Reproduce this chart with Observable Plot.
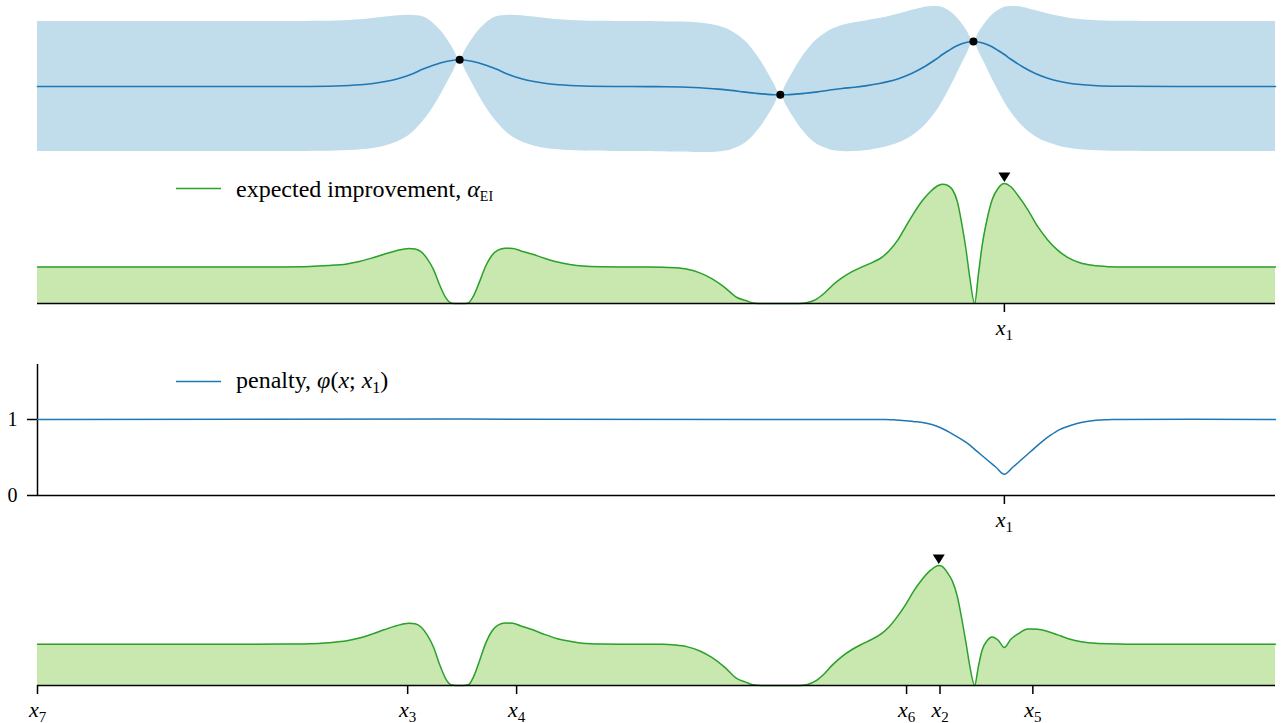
<!DOCTYPE html>
<html>
<head>
<meta charset="utf-8">
<script src="https://cdn.jsdelivr.net/npm/d3@7"></script>
<script src="https://cdn.jsdelivr.net/npm/@observablehq/plot@0.6"></script>
<style>
  body { margin: 0; background: #fff; }
  #chart { position: relative; width: 1282px; height: 723px; background: #fff; }
  #chart svg { display: block; }
  #overlay { position: absolute; left: 0; top: 0; pointer-events: none; }
</style>
</head>
<body>
<div id="chart"></div>
<script>
// ---------- data ----------
// GP posterior (top panel): sample positions, posterior mean, posterior std
const gpX = [0,1.0,2.0,2.41,2.61,2.71,2.81,2.91,3.01,3.11,3.16,3.21,3.26,3.31,3.36,3.41,3.46,3.51,3.56,3.61,3.66,3.71,3.81,3.91,4.01,4.11,4.21,4.41,4.8,5.0,5.2,5.3,5.4,5.5,5.6,5.7,5.75,5.8,5.85,5.9,5.95,6.0,6.05,6.1,6.15,6.2,6.25,6.3,6.4,6.5,6.6,6.7,6.8,6.86,6.96,7.06,7.16,7.26,7.31,7.36,7.41,7.46,7.51,7.56,7.61,7.66,7.71,7.76,7.81,7.86,7.96,8.06,8.16,8.26,8.36,8.56,8.8,9.2,10];
const gpMean = [0,0,0,0.05,0.17,0.3,0.5,0.78,1.17,1.72,1.96,2.18,2.38,2.53,2.63,2.67,2.63,2.53,2.38,2.18,1.96,1.72,1.17,0.78,0.5,0.3,0.17,0.05,0,-0.016,-0.056,-0.10,-0.17,-0.26,-0.385,-0.54,-0.61,-0.68,-0.74,-0.79,-0.82,-0.83,-0.82,-0.79,-0.74,-0.68,-0.61,-0.54,-0.355,-0.20,-0.07,0.09,0.30,0.46,0.81,1.3,1.95,2.75,3.2,3.6,3.97,4.25,4.43,4.5,4.43,4.25,3.97,3.6,3.2,2.75,1.95,1.3,0.83,0.5,0.28,0.08,0.02,0,0];
const gpStd = [3.25,3.25,3.25,3.25,3.25,3.245,3.22,3.15,2.98,2.63,2.36,2.0,1.58,1.08,0.55,0,0.55,1.08,1.58,2.0,2.36,2.63,2.98,3.15,3.22,3.245,3.25,3.25,3.25,3.25,3.25,3.245,3.22,3.15,2.98,2.63,2.36,2.0,1.58,1.08,0.55,0,0.55,1.08,1.58,2.0,2.36,2.63,2.98,3.15,3.22,3.245,3.245,3.245,3.22,3.15,2.98,2.63,2.36,2.0,1.58,1.08,0.55,0,0.55,1.08,1.58,2.0,2.36,2.63,2.98,3.15,3.22,3.245,3.25,3.25,3.25,3.25,3.25];

// observations
const obsX = [3.41, 6.00, 7.56];
const obsY = [2.67, -0.83, 4.5];

// expected improvement and penalized expected improvement (same sample positions)
const eiX = [0,1.5,2.0,2.2,2.35,2.5,2.6,2.7,2.8,2.9,3.0,3.05,3.1,3.15,3.2,3.25,3.3,3.34,3.38,3.44,3.48,3.52,3.57,3.62,3.67,3.72,3.78,3.84,3.9,4.0,4.1,4.2,4.3,4.4,4.55,4.8,5.05,5.15,5.25,5.35,5.45,5.55,5.65,5.72,5.78,5.85,6.15,6.22,6.29,6.36,6.42,6.5,6.58,6.66,6.75,6.82,6.88,6.95,7.01,7.08,7.15,7.22,7.28,7.31,7.35,7.39,7.43,7.47,7.50,7.53,7.57,7.60,7.63,7.67,7.71,7.76,7.81,7.86,7.92,8.0,8.08,8.16,8.24,8.32,8.42,8.52,8.65,8.8,10];
const eiY = [0.304,0.304,0.305,0.308,0.316,0.33,0.35,0.378,0.41,0.44,0.459,0.455,0.43,0.37,0.28,0.15,0.045,0.005,0,0,0.005,0.06,0.18,0.31,0.40,0.445,0.46,0.459,0.44,0.41,0.375,0.345,0.325,0.312,0.306,0.304,0.303,0.298,0.285,0.255,0.205,0.135,0.05,0.025,0.005,0,0,0.008,0.035,0.09,0.15,0.215,0.265,0.305,0.345,0.385,0.44,0.53,0.635,0.755,0.86,0.94,0.985,0.994,0.985,0.95,0.85,0.64,0.45,0.22,0,0.24,0.48,0.70,0.86,0.96,1.0,0.975,0.9,0.78,0.64,0.53,0.445,0.385,0.34,0.318,0.307,0.304,0.304];
const peiY = [0.344,0.344,0.345,0.348,0.357,0.373,0.396,0.428,0.464,0.498,0.519,0.515,0.486,0.418,0.317,0.17,0.051,0.006,0,0,0.006,0.068,0.204,0.351,0.452,0.503,0.52,0.519,0.498,0.464,0.424,0.39,0.368,0.353,0.346,0.344,0.343,0.337,0.322,0.288,0.232,0.153,0.057,0.028,0.006,0,0,0.009,0.04,0.102,0.17,0.243,0.30,0.345,0.39,0.435,0.49,0.58,0.67,0.79,0.89,0.965,1.0,0.99,0.94,0.87,0.742,0.532,0.356,0.165,0,0.157,0.293,0.372,0.404,0.377,0.316,0.383,0.43,0.47,0.468,0.45,0.422,0.392,0.366,0.354,0.347,0.344,0.344];

// penalty phi(x; x1)
const penX = [0,6.85,6.93,7.01,7.10,7.18,7.26,7.34,7.42,7.51,7.59,7.67,7.74,7.81,7.88,7.94,8.02,8.10,8.18,8.26,8.35,8.43,8.52,8.60,8.68,10];
const penY = [1,1,0.995,0.985,0.97,0.95,0.915,0.855,0.78,0.69,0.58,0.47,0.375,0.28,0.375,0.46,0.575,0.69,0.79,0.87,0.925,0.96,0.985,0.995,1,1];

// tick positions and labels
const x1TickX = [7.81];
const x1TickLabel = ["x_1"];
const bottomTickX = [0, 2.99, 3.87, 7.02, 7.29, 8.04];
const bottomTickLabel = ["x_7", "x_3", "x_4", "x_6", "x_2", "x_5"];
const penTicks = [0, 1];

// ---------- tables ----------
const gp = gpX.map((x, i) => ({x, m: gpMean[i], s: gpStd[i]}));
const obs = obsX.map((x, i) => ({x, y: obsY[i]}));
const ei = eiX.map((x, i) => ({x, v: eiY[i]}));
const pei = eiX.map((x, i) => ({x, v: peiY[i]}));
const pen = penX.map((x, i) => ({x, v: penY[i]}));
const eiMax = ei[d3.maxIndex(ei, d => d.v)];
const peiMax = pei[d3.maxIndex(pei, d => d.v)];

// ---------- styling ----------
const FONT = "Liberation Serif";
const BLUE = "#1f77b4", BAND = "#c1dcea", GREEN = "#2ca02c", GREENFILL = "#c9e8b0";
const base = {
  width: 1282, marginLeft: 37, marginRight: 7,
  style: {fontFamily: FONT, fontSize: "22px", background: "white", overflow: "visible", color: "black"}
};
const xScale = {domain: [0, 10], label: null};
const triDown = {draw(ctx) { ctx.moveTo(0, 0); ctx.lineTo(-6, -9.5); ctx.lineTo(6, -9.5); ctx.closePath(); }};

function xAxis(ticks, labels) {
  const lab = new Map(ticks.map((t, i) => [t, labels[i]]));
  return Plot.axisX(ticks, {tickSize: 9, tickPadding: 7, strokeWidth: 1.5, fontSize: 22, label: null, tickFormat: d => lab.get(d)});
}

// ---------- panels ----------
const p1 = Plot.plot({
  ...base, height: 160, marginTop: 0, marginBottom: 0,
  x: {...xScale, axis: null}, y: {domain: [-7.4, 8.6], axis: null},
  marks: [
    Plot.areaY(gp, {x: "x", y1: d => d.m - 2 * d.s, y2: d => d.m + 2 * d.s, fill: BAND, curve: "catmull-rom"}),
    Plot.lineY(gp, {x: "x", y: "m", stroke: BLUE, strokeWidth: 1.6, curve: "catmull-rom"}),
    Plot.dot(obs, {x: "x", y: "y", r: 4, fill: "black"})
  ]
});

const p2 = Plot.plot({
  ...base, height: 185, marginTop: 0, marginBottom: 42,
  x: xScale, y: {domain: [0, 143 / 120], axis: null},
  marks: [
    Plot.areaY(ei, {x: "x", y: "v", fill: GREENFILL, curve: "monotone-x"}),
    Plot.lineY(ei, {x: "x", y: "v", stroke: GREEN, strokeWidth: 1.5, curve: "monotone-x"}),
    Plot.ruleY([0], {stroke: "black", strokeWidth: 1.5}),
    xAxis(x1TickX, x1TickLabel),
    Plot.dot([eiMax], {x: "x", y: "v", symbol: triDown, r: 4.5, fill: "black", dy: -1.5})
  ]
});

const p3 = Plot.plot({
  ...base, height: 195, marginTop: 19, marginBottom: 45,
  x: xScale, y: {domain: [0, 131 / 76], label: null},
  marks: [
    Plot.ruleX([0], {stroke: "black", strokeWidth: 1.5}),
    Plot.ruleY([0], {stroke: "black", strokeWidth: 1.5}),
    Plot.lineY(pen, {x: "x", y: "v", stroke: BLUE, strokeWidth: 1.5, curve: "catmull-rom"}),
    Plot.axisY(penTicks, {tickSize: 10, tickPadding: 10, strokeWidth: 1.5, fontSize: 20, label: null, tickFormat: d => String(d)}),
    xAxis(x1TickX, x1TickLabel)
  ]
});

const p4 = Plot.plot({
  ...base, height: 183, marginTop: 0, marginBottom: 38,
  x: xScale, y: {domain: [0, 145 / 120], axis: null},
  marks: [
    Plot.areaY(pei, {x: "x", y: "v", fill: GREENFILL, curve: "monotone-x"}),
    Plot.lineY(pei, {x: "x", y: "v", stroke: GREEN, strokeWidth: 1.5, curve: "monotone-x"}),
    Plot.ruleY([0], {stroke: "black", strokeWidth: 1.5}),
    xAxis(bottomTickX, bottomTickLabel),
    Plot.dot([peiMax], {x: "x", y: "v", symbol: triDown, r: 4.5, fill: "black", dy: -1.5})
  ]
});

const chart = document.getElementById("chart");
const NS = "http://www.w3.org/2000/svg";
function mathLabels(svg) {
  svg.querySelectorAll('g[aria-label="x-axis tick label"] text').forEach(t => {
    const parts = t.textContent.split("_");
    if (parts.length < 2) return;
    t.textContent = "";
    const a = document.createElementNS(NS, "tspan");
    a.setAttribute("font-style", "italic");
    a.textContent = parts[0];
    const b = document.createElementNS(NS, "tspan");
    b.setAttribute("font-size", "15");
    b.setAttribute("dy", "5");
    b.textContent = parts[1];
    t.append(a, b);
  });
}
[p1, p2, p3, p4].forEach(p => { mathLabels(p); chart.appendChild(p); });

// ---------- legends (overlay) ----------
const ov = d3.select(chart).append("svg").attr("id", "overlay")
  .attr("width", 1282).attr("height", 723)
  .style("font-family", FONT).style("font-size", "24px");

function legendEntry(y, color, textY, build) {
  ov.append("line").attr("x1", 176).attr("x2", 221).attr("y1", y).attr("y2", y)
    .attr("stroke", color).attr("stroke-width", 1.5);
  const t = ov.append("text").attr("x", 236).attr("y", textY).attr("fill", "black");
  build(t);
}
legendEntry(188.5, GREEN, 196.5, t => {
  t.append("tspan").text("expected improvement, ");
  t.append("tspan").attr("font-style", "italic").text("α");
  t.append("tspan").attr("font-size", "14").attr("dy", 4).text("EI");
});
legendEntry(381.5, BLUE, 387.5, t => {
  t.append("tspan").text("penalty, ");
  t.append("tspan").attr("font-style", "italic").text("φ");
  t.append("tspan").text("(");
  t.append("tspan").attr("font-style", "italic").text("x");
  t.append("tspan").text("; ");
  t.append("tspan").attr("font-style", "italic").text("x");
  t.append("tspan").attr("font-size", "16").attr("dy", 5).text("1");
  t.append("tspan").attr("dy", -5).text(")");
});
</script>
</body>
</html>
